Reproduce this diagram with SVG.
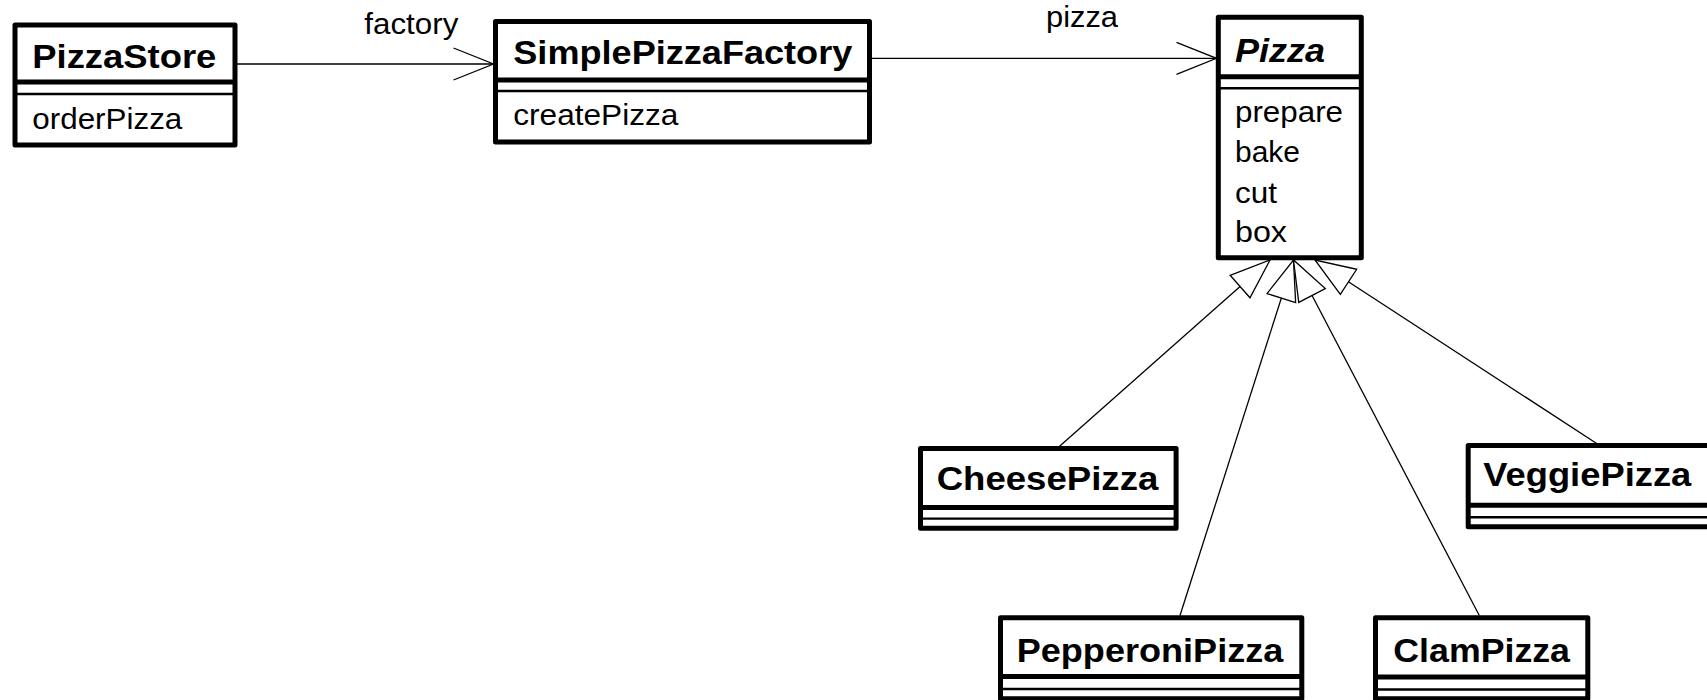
<svg xmlns="http://www.w3.org/2000/svg" width="1707" height="700" viewBox="0 0 1707 700">
  <style>
    .box { fill: #fff; stroke: #000; stroke-width: 5; stroke-linejoin: round; }
    .sep { stroke: #000; stroke-width: 5; }
    .sep2 { stroke: #000; stroke-width: 2.4; }
    .name { font-family: "Liberation Sans", Arial, sans-serif; font-weight: bold; font-size: 34px; fill: #000; }
    .abs { font-style: italic; }
    .op { font-family: "Liberation Sans", Arial, sans-serif; font-size: 30px; fill: #000; }
    .lbl { font-family: "Liberation Sans", Arial, sans-serif; font-size: 30px; fill: #000; }
    .conn { fill: none; stroke: #000; stroke-width: 1.3; }
  </style>
  <defs>
    <marker id="open" markerUnits="userSpaceOnUse" orient="auto" refX="40" refY="0" markerWidth="44" markerHeight="36" overflow="visible">
      <path d="M0,-16 L40,0 L0,16" fill="none" stroke="#000" stroke-width="1.3"/>
    </marker>
    <marker id="inherit" markerUnits="userSpaceOnUse" orient="auto" refX="40" refY="0" markerWidth="44" markerHeight="34" overflow="visible">
      <path d="M0,-15 L40,0 L0,15 Z" fill="#fff" stroke="#000" stroke-width="1.3"/>
    </marker>
  </defs>

  <g id="connectors">
    <path class="conn" d="M237,64 L493.5,64" marker-end="url(#open)"/>
    <text class="lbl" x="364.3" y="34" textLength="94" lengthAdjust="spacingAndGlyphs">factory</text>
    <path class="conn" d="M872,58.3 L1216.5,58.3" marker-end="url(#open)"/>
    <text class="lbl" x="1046" y="27.3" textLength="72" lengthAdjust="spacingAndGlyphs">pizza</text>
    <path class="conn" d="M1059.3,446.5 L1270,260" marker-end="url(#inherit)"/>
    <path class="conn" d="M1180,615.5 L1293.5,260" marker-end="url(#inherit)"/>
    <path class="conn" d="M1479.3,615.5 L1293.5,260" marker-end="url(#inherit)"/>
    <path class="conn" d="M1596.7,443.5 L1315,260" marker-end="url(#inherit)"/>
  </g>

  <g id="PizzaStore">
    <rect class="box" x="15" y="25" width="220" height="120"/>
    <line class="sep" x1="15" y1="82" x2="235" y2="82"/>
    <line class="sep2" x1="15" y1="94" x2="235" y2="94"/>
    <text class="name" x="32.3" y="68" textLength="184" lengthAdjust="spacingAndGlyphs">PizzaStore</text>
    <text class="op" x="32.3" y="129" textLength="150" lengthAdjust="spacingAndGlyphs">orderPizza</text>
  </g>

  <g id="SimplePizzaFactory">
    <rect class="box" x="495.5" y="21.5" width="374" height="120.5"/>
    <line class="sep" x1="495.5" y1="80" x2="869.5" y2="80"/>
    <line class="sep2" x1="495.5" y1="91" x2="869.5" y2="91"/>
    <text class="name" x="513.3" y="63.8" textLength="339" lengthAdjust="spacingAndGlyphs">SimplePizzaFactory</text>
    <text class="op" x="513.3" y="125" textLength="165" lengthAdjust="spacingAndGlyphs">createPizza</text>
  </g>

  <g id="Pizza">
    <rect class="box" x="1218.3" y="17.3" width="143" height="240.5"/>
    <line class="sep" x1="1218.3" y1="76.7" x2="1361.3" y2="76.7"/>
    <line class="sep2" x1="1218.3" y1="88.3" x2="1361.3" y2="88.3"/>
    <text class="name abs" x="1235" y="61.7" textLength="90" lengthAdjust="spacingAndGlyphs">Pizza</text>
    <text class="op" x="1235" y="122" textLength="108" lengthAdjust="spacingAndGlyphs">prepare</text>
    <text class="op" x="1235" y="162" textLength="65" lengthAdjust="spacingAndGlyphs">bake</text>
    <text class="op" x="1235" y="202.5" textLength="42" lengthAdjust="spacingAndGlyphs">cut</text>
    <text class="op" x="1235" y="242" textLength="52" lengthAdjust="spacingAndGlyphs">box</text>
  </g>

  <g id="CheesePizza">
    <rect class="box" x="920.5" y="448.6" width="255.6" height="79.6"/>
    <line class="sep" x1="920.5" y1="507.6" x2="1176.1" y2="507.6"/>
    <line class="sep2" x1="920.5" y1="518.6" x2="1176.1" y2="518.6"/>
    <text class="name" x="936.7" y="490" textLength="221.6" lengthAdjust="spacingAndGlyphs">CheesePizza</text>
  </g>

  <g id="VeggiePizza">
    <rect class="box" x="1468.2" y="445.6" width="260" height="81.1"/>
    <line class="sep" x1="1468.2" y1="505.2" x2="1728.2" y2="505.2"/>
    <line class="sep2" x1="1468.2" y1="517.3" x2="1728.2" y2="517.3"/>
    <text class="name" x="1483.3" y="485.5" textLength="208" lengthAdjust="spacingAndGlyphs">VeggiePizza</text>
  </g>

  <g id="PepperoniPizza">
    <rect class="box" x="1000.5" y="617.7" width="301.3" height="81"/>
    <line class="sep" x1="1000.5" y1="676.4" x2="1301.8" y2="676.4"/>
    <line class="sep2" x1="1000.5" y1="689" x2="1301.8" y2="689"/>
    <text class="name" x="1016.7" y="661.7" textLength="266.6" lengthAdjust="spacingAndGlyphs">PepperoniPizza</text>
  </g>

  <g id="ClamPizza">
    <rect class="box" x="1375.5" y="617.7" width="212.3" height="81"/>
    <line class="sep" x1="1375.5" y1="677" x2="1587.8" y2="677"/>
    <line class="sep2" x1="1375.5" y1="689.5" x2="1587.8" y2="689.5"/>
    <text class="name" x="1393.3" y="661.7" textLength="176.7" lengthAdjust="spacingAndGlyphs">ClamPizza</text>
  </g>
</svg>
